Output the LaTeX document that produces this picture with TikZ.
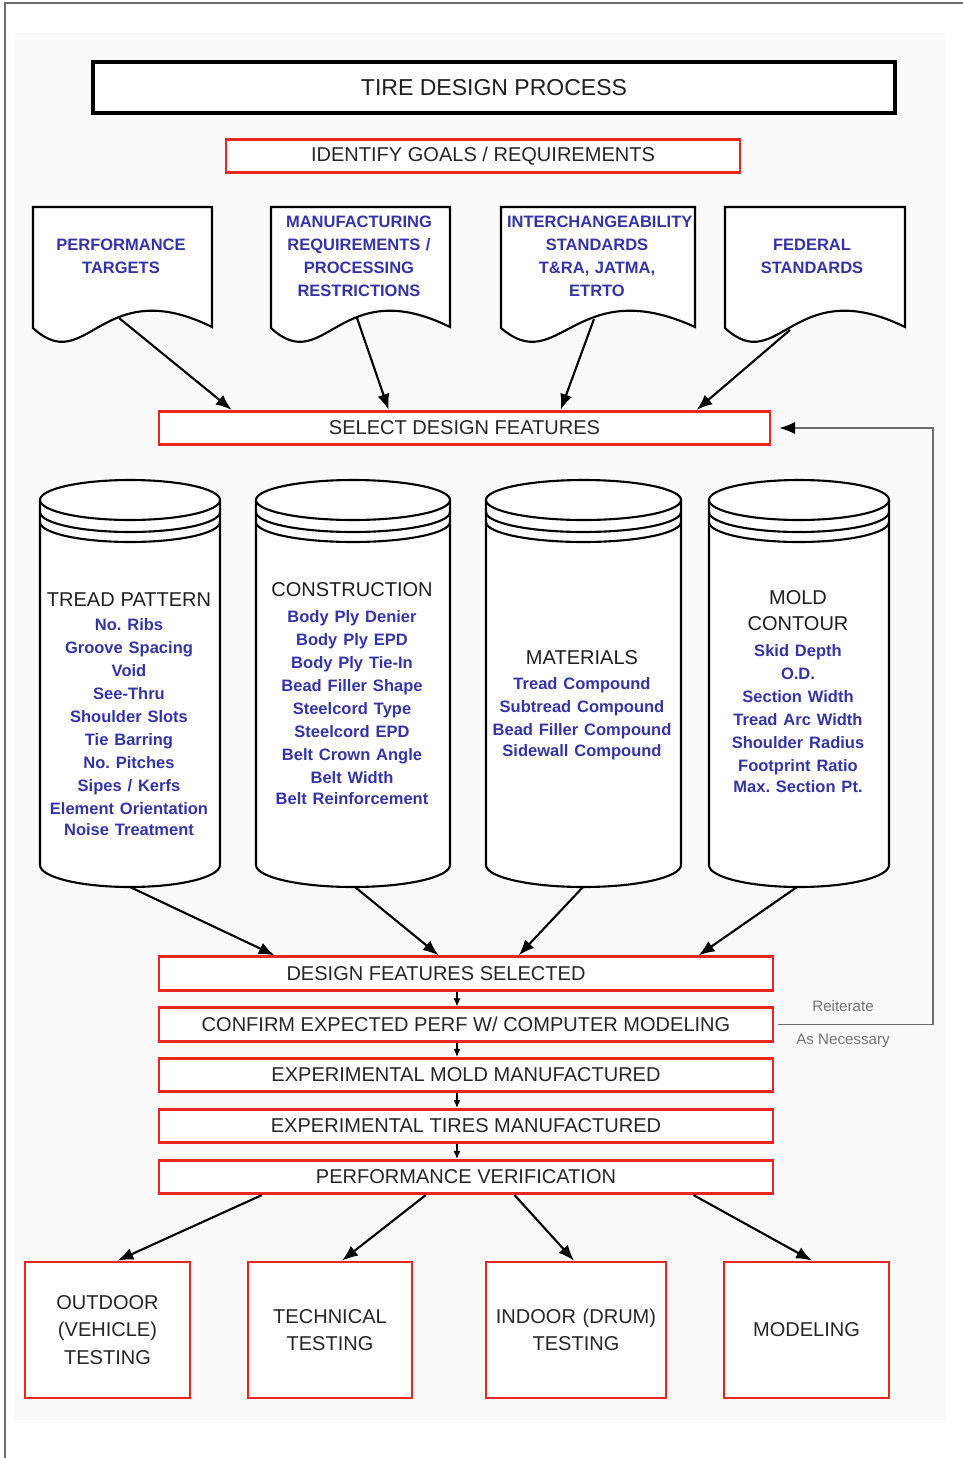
\documentclass[tikz,border=0pt]{standalone}
\usepackage{fontspec}
\setmainfont{Liberation Sans}
\usetikzlibrary{arrows.meta,calc}

\definecolor{boxred}{RGB}{232,40,32}
\definecolor{itemblue}{RGB}{52,52,168}
\definecolor{framegray}{RGB}{110,110,110}

\newcommand{\hdr}{\fontsize{11.4pt}{13.1pt}\selectfont\mdseries\color{black!88}}
\newcommand{\itm}{\fontsize{9.4pt}{13.1pt}\selectfont\bfseries\color{itemblue}}
\frenchspacing

\begin{document}
\begin{tikzpicture}[x=0.02cm,y=-0.02cm,
  redbox/.style={draw=boxred,line width=1.6pt,fill=white,inner sep=0pt,text=black!85,
    minimum height=0.67cm,font=\fontsize{11.4pt}{13pt}\selectfont},
  testbox/.style={redbox,minimum width=3.3cm,minimum height=2.72cm,text width=3.2cm,
    align=center,font=\fontsize{11.4pt}{15.6pt}\selectfont},
  doctext/.style={text width=3.6cm,align=center,inner sep=0pt,font=\itm},
  cyltext/.style={align=center,inner sep=0pt},
  outline/.style={draw=black,line width=1.2pt,fill=white},
  arrow/.style={draw=black,line width=1.2pt,-{Latex[length=9pt,width=7pt]}},
  smallarrow/.style={draw=black,line width=0.6pt,-{Latex[length=4.5pt,width=4pt]}},
  note/.style={text=black!55,inner sep=0pt,font=\fontsize{8.6pt}{10pt}\selectfont}]

\useasboundingbox (0,0) rectangle (963,1458);
\fill[black!2] (15,33) rectangle (945,1420);
\draw[framegray,line width=0.8pt] (5,1458) -- (5,3) -- (963,3);

%title
\node[draw=black,line width=1.8pt,fill=white,minimum width=16.04cm,minimum height=1.02cm,
  text=black!88,font=\fontsize{13.1pt}{15pt}\selectfont] (title) at (494,87.5) {TIRE DESIGN PROCESS};
\node[redbox,minimum width=10.28cm] (goals) at (483,156) {IDENTIFY GOALS / REQUIREMENTS};

%documents
\draw[outline] (33,328) -- (33,207) -- (212,207) -- (212,327)
  .. controls (101,272) and (87,378) .. (33,328) -- cycle;
\node[doctext] (dtarg) at (121,256.5) {PERFORMANCE\\TARGETS};
\coordinate (d1) at (119,318);

\draw[outline] (271,328) -- (271,207) -- (450,207) -- (450,327)
  .. controls (339,272) and (325,378) .. (271,328) -- cycle;
\node[doctext] (dmanu) at (359,256.5) {MANUFACTURING\\REQUIREMENTS /\\PROCESSING\\RESTRICTIONS};
\coordinate (d2) at (357,318);

\draw[outline] (501,328) -- (501,207) -- (695,207) -- (695,327)
  .. controls (575,272) and (559,378) .. (501,328) -- cycle;
\node[doctext] (dinter) at (597,256.5) {INTERCHANGEABILITY\\STANDARDS\\T\&RA, JATMA,\\ETRTO};
\coordinate (d3) at (594,319);

\draw[outline] (725,328) -- (725,207) -- (905,207) -- (905,327)
  .. controls (793,272) and (779,378) .. (725,328) -- cycle;
\node[doctext] (dfed) at (812,256.5) {FEDERAL\\STANDARDS};
\coordinate (d4) at (790,330);

\node[redbox,minimum width=12.22cm] (select) at (464.5,428) {SELECT DESIGN FEATURES};

\path[arrow] (d1) -- ($(select.north west)+(74,0)$);
\path[arrow] (d2) -- ($(select.north west)+(231,0)$);
\path[arrow] (d3) -- ($(select.north west)+(403,0)$);
\path[arrow] (d4) -- ($(select.north west)+(539,0)$);

%c1
\draw[outline] (40,500) -- (40,865) arc[start angle=180,end angle=360,x radius=1.8cm,y radius=0.44cm] -- (220,500);
\draw[outline] (130,500) ellipse [x radius=1.8cm,y radius=0.4cm];
\draw[outline,fill=none] (40,512) arc[start angle=180,end angle=360,x radius=1.8cm,y radius=0.4cm];
\draw[outline,fill=none] (40,522) arc[start angle=180,end angle=360,x radius=1.8cm,y radius=0.4cm];
\node[cyltext,text width=3.5cm] (ctread) at (129,714.5) {\hdr TREAD PATTERN\\[0.5pt]\itm No. Ribs\\Groove Spacing\\Void\\See-Thru\\Shoulder Slots\\Tie Barring\\No. Pitches\\Sipes / Kerfs\\Element Orientation\\Noise Treatment};
\coordinate (c1) at (130,887);

%c2
\draw[outline] (256,500) -- (256,865) arc[start angle=180,end angle=360,x radius=1.94cm,y radius=0.44cm] -- (450,500);
\draw[outline] (353,500) ellipse [x radius=1.94cm,y radius=0.4cm];
\draw[outline,fill=none] (256,512) arc[start angle=180,end angle=360,x radius=1.94cm,y radius=0.4cm];
\draw[outline,fill=none] (256,522) arc[start angle=180,end angle=360,x radius=1.94cm,y radius=0.4cm];
\node[cyltext,text width=3.8cm] (cconst) at (352,693.5) {\hdr CONSTRUCTION\\[1.8pt]\itm Body Ply Denier\\Body Ply EPD\\Body Ply Tie-In\\Bead Filler Shape\\Steelcord Type\\Steelcord EPD\\Belt Crown Angle\\Belt Width\\Belt Reinforcement};
\coordinate (c2) at (355,887);

%c3
\draw[outline] (486,500) -- (486,865) arc[start angle=180,end angle=360,x radius=1.95cm,y radius=0.44cm] -- (681,500);
\draw[outline] (583.5,500) ellipse [x radius=1.95cm,y radius=0.4cm];
\draw[outline,fill=none] (486,512) arc[start angle=180,end angle=360,x radius=1.95cm,y radius=0.4cm];
\draw[outline,fill=none] (486,522) arc[start angle=180,end angle=360,x radius=1.95cm,y radius=0.4cm];
\node[cyltext,text width=3.8cm] (cmat) at (582,705.5) {\hdr MATERIALS\\[1pt]\itm Tread Compound\\Subtread Compound\\Bead Filler Compound\\Sidewall Compound};
\coordinate (c3) at (583,887);

%c4
\draw[outline] (709,500) -- (709,865) arc[start angle=180,end angle=360,x radius=1.8cm,y radius=0.44cm] -- (889,500);
\draw[outline] (799,500) ellipse [x radius=1.8cm,y radius=0.4cm];
\draw[outline,fill=none] (709,512) arc[start angle=180,end angle=360,x radius=1.8cm,y radius=0.4cm];
\draw[outline,fill=none] (709,522) arc[start angle=180,end angle=360,x radius=1.8cm,y radius=0.4cm];
\node[cyltext,text width=3.5cm] (cmold) at (798,691.5) {\hdr MOLD\\[2pt]CONTOUR\\[1.5pt]\itm Skid Depth\\O.D.\\Section Width\\Tread Arc Width\\Shoulder Radius\\Footprint Ratio\\Max. Section Pt.};
\coordinate (c4) at (797,887);

%steps
\node[redbox,minimum width=12.28cm] (selected) at (466,973.5) {DESIGN FEATURES SELECTED\hspace*{1.2cm}};
\node[redbox,minimum width=12.28cm] (confirm) at (466,1024.5) {CONFIRM EXPECTED PERF W/ COMPUTER MODELING};
\node[redbox,minimum width=12.28cm] (mold) at (466,1075) {EXPERIMENTAL MOLD MANUFACTURED};
\node[redbox,minimum width=12.28cm] (tires) at (466,1126) {EXPERIMENTAL TIRES MANUFACTURED};
\node[redbox,minimum width=12.28cm] (verify) at (466,1177) {PERFORMANCE VERIFICATION};

\path[arrow] (c1) -- ($(selected.north west)+(117,0)$);
\path[arrow] (c2) -- ($(selected.north west)+(281,0)$);
\path[arrow] (c3) -- ($(selected.north west)+(361,0)$);
\path[arrow] (c4) -- ($(selected.north west)+(541,0)$);

\coordinate (mid) at (457,0);
\path[smallarrow] (selected.south -| mid) -- (confirm.north -| mid);
\path[smallarrow] (confirm.south -| mid) -- (mold.north -| mid);
\path[smallarrow] (mold.south -| mid) -- (tires.north -| mid);
\path[smallarrow] (tires.south -| mid) -- (verify.north -| mid);

%reiterate
\coordinate (back) at (933,0);
\path[draw=framegray,line width=0.8pt,-{Latex[black,length=9pt,width=7pt]}]
  ($(confirm.east)+(4,0)$) -- (confirm.east -| back) -- (select.east -| back) -- ($(select.east)+(8,0)$);
\node[note] (reit) at (843,1006) {Reiterate};
\node[note] (asnec) at (843,1041) {As Necessary};

%tests
\node[testbox] (outdoor) at (107.5,1330) {OUTDOOR\\(VEHICLE)\\TESTING};
\node[testbox,minimum width=3.28cm] (technical) at (330,1330) {TECHNICAL\\TESTING};
\node[testbox,minimum width=3.6cm,text width=3.5cm] (indoor) at (576,1330) {INDOOR (DRUM)\\TESTING};
\node[testbox] (modeling) at (806.5,1330) {MODELING};

\path[arrow] ($(verify.south west)+(104,0)$) -- ($(outdoor.north)+(10,0)$);
\path[arrow] ($(verify.south west)+(268,0)$) -- ($(technical.north)+(12,0)$);
\path[arrow] ($(verify.south west)+(357,0)$) -- ($(indoor.north)+(-2,0)$);
\path[arrow] ($(verify.south west)+(536,0)$) -- ($(modeling.north)+(5.5,0)$);

\end{tikzpicture}
\end{document}
